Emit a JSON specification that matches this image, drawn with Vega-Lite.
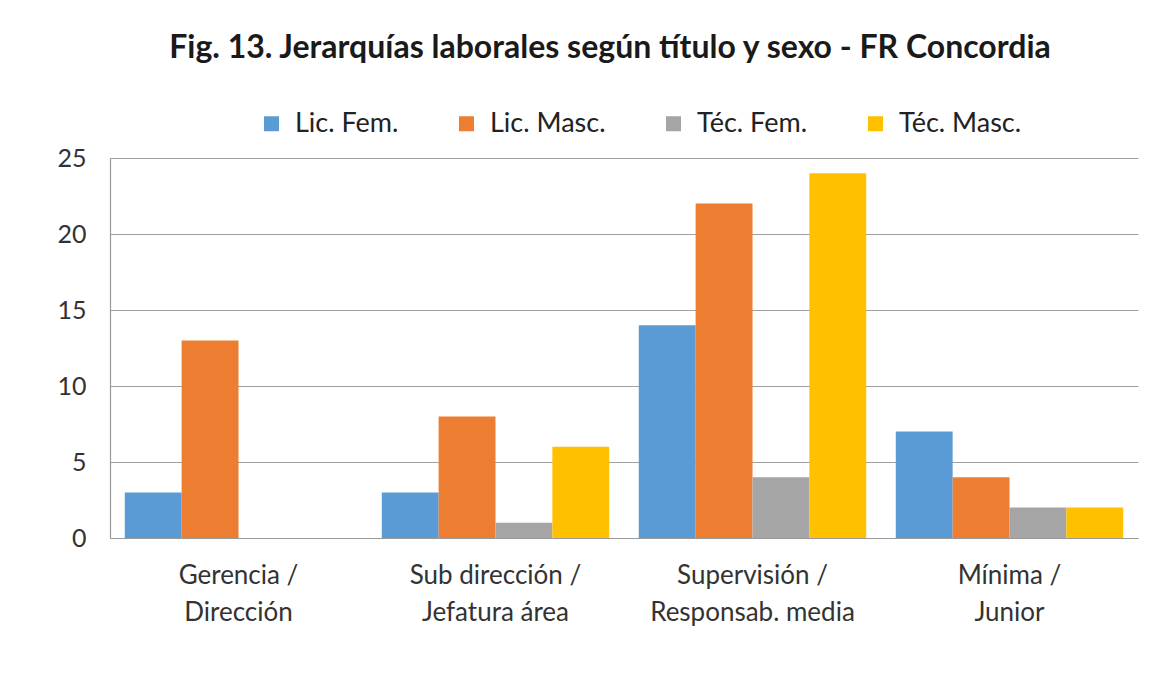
{
  "$schema": "https://vega.github.io/schema/vega-lite/v6.json",
  "autosize": {"type": "none"},
  "width": 1028,
  "height": 380,
  "padding": {"left": 110, "top": 158, "right": 19, "bottom": 143},
  "background": "#ffffff",
  "title": {
    "text": "Fig. 13. Jerarquías laborales según título y sexo - FR Concordia",
    "font": "Lato",
    "fontSize": 32,
    "fontWeight": "bold",
    "color": "#1a1a1a",
    "anchor": "middle",
    "frame": "group",
    "dx": -14,
    "offset": 45
  },
  "data": {
    "values": [
      {"categoria": "Gerencia  /|Dirección", "serie": "Lic. Fem.", "valor": 3},
      {"categoria": "Gerencia  /|Dirección", "serie": "Lic. Masc.", "valor": 13},
      {"categoria": "Gerencia  /|Dirección", "serie": "Téc. Fem.", "valor": 0},
      {"categoria": "Gerencia  /|Dirección", "serie": "Téc. Masc.", "valor": 0},
      {"categoria": "Sub dirección  /|Jefatura área", "serie": "Lic. Fem.", "valor": 3},
      {"categoria": "Sub dirección  /|Jefatura área", "serie": "Lic. Masc.", "valor": 8},
      {"categoria": "Sub dirección  /|Jefatura área", "serie": "Téc. Fem.", "valor": 1},
      {"categoria": "Sub dirección  /|Jefatura área", "serie": "Téc. Masc.", "valor": 6},
      {"categoria": "Supervisión /|Responsab. media", "serie": "Lic. Fem.", "valor": 14},
      {"categoria": "Supervisión /|Responsab. media", "serie": "Lic. Masc.", "valor": 22},
      {"categoria": "Supervisión /|Responsab. media", "serie": "Téc. Fem.", "valor": 4},
      {"categoria": "Supervisión /|Responsab. media", "serie": "Téc. Masc.", "valor": 24},
      {"categoria": "Mínima  /|Junior", "serie": "Lic. Fem.", "valor": 7},
      {"categoria": "Mínima  /|Junior", "serie": "Lic. Masc.", "valor": 4},
      {"categoria": "Mínima  /|Junior", "serie": "Téc. Fem.", "valor": 2},
      {"categoria": "Mínima  /|Junior", "serie": "Téc. Masc.", "valor": 2}
    ]
  },
  "mark": {"type": "bar"},
  "encoding": {
    "x": {
      "field": "categoria",
      "type": "nominal",
      "sort": null,
      "scale": {"paddingInner": 0.115, "paddingOuter": 0.0575},
      "axis": {
        "title": null,
        "labelAngle": 0,
        "labelExpr": "split(datum.label, '|')",
        "labelFont": "Lato",
        "labelFontSize": 26,
        "labelLineHeight": 37,
        "labelLimit": 0,
        "labelColor": "#333333",
        "labelPadding": 24,
        "ticks": false,
        "domainColor": "#999999",
        "domainWidth": 1.2,
        "grid": false
      }
    },
    "xOffset": {"field": "serie", "type": "nominal", "sort": ["Lic. Fem.", "Lic. Masc.", "Téc. Fem.", "Téc. Masc."], "scale": {"paddingInner": 0, "paddingOuter": 0}},
    "y": {
      "field": "valor",
      "type": "quantitative",
      "scale": {"domain": [0, 25]},
      "axis": {
        "title": null,
        "values": [0, 5, 10, 15, 20, 25],
        "labelFont": "Lato",
        "labelFontSize": 25,
        "labelColor": "#333333",
        "labelPadding": 24,
        "ticks": false,
        "domainColor": "#999999",
        "domainWidth": 1.2,
        "gridColor": "#a0a0a0",
        "gridWidth": 1.2
      }
    },
    "color": {
      "field": "serie",
      "type": "nominal",
      "sort": ["Lic. Fem.", "Lic. Masc.", "Téc. Fem.", "Téc. Masc."],
      "scale": {"range": ["#5b9bd5", "#ed7d31", "#a5a5a5", "#ffc000"]},
      "legend": {
        "title": null,
        "orient": "none",
        "direction": "horizontal",
        "legendX": 148,
        "legendY": -48,
        "symbolType": "square",
        "symbolSize": 225,
        "symbolStrokeWidth": 0,
        "labelFont": "Lato",
        "labelFontSize": 27,
        "labelColor": "#222222",
        "labelOffset": 10,
        "labelLimit": 0,
        "columnPadding": 54,
        "gridAlign": "each"
      }
    }
  },
  "config": {
    "view": {"stroke": null}
  }
}
